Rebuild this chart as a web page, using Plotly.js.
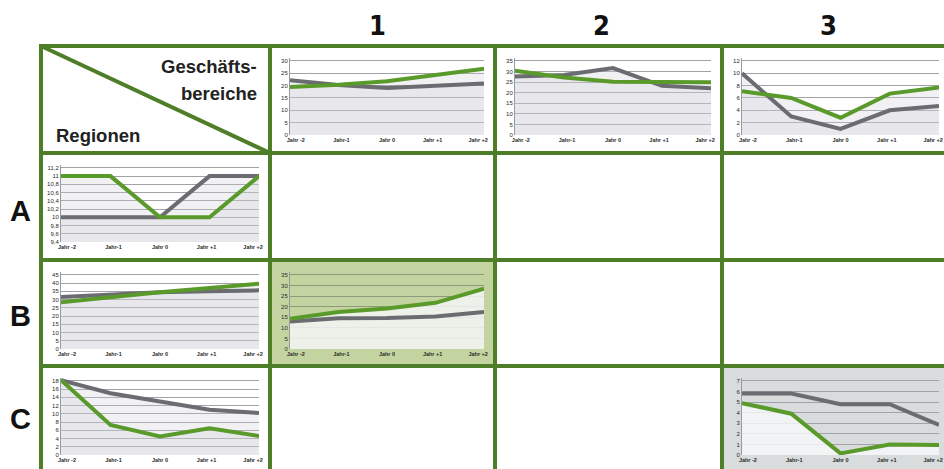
<!DOCTYPE html>
<html>
<head>
<meta charset="utf-8">
<script src="https://cdn.plot.ly/plotly-3.0.1.min.js"></script>
<style>html,body{margin:0;padding:0;background:#fff;}#chart{width:944px;height:469px;}</style>
</head>
<body>
<div id="chart"></div>
<script>
// ---- Data ----
const years = ['Jahr -2', 'Jahr-1', 'Jahr 0', 'Jahr +1', 'Jahr +2'];
const columnLabels = ['1', '2', '3'];
const rowLabels = ['A', 'B', 'C'];

const head1Gray  = [22.2, 20.2, 19.0, 19.8, 20.8];
const head1Green = [19.4, 20.3, 21.8, 24.3, 26.8];
const head2Gray  = [27.6, 28.3, 31.6, 23.2, 22.1];
const head2Green = [30.3, 27.2, 25.1, 24.9, 24.9];
const head3Gray  = [10.0, 3.0, 1.0, 4.0, 4.7];
const head3Green = [7.1, 6.0, 2.8, 6.7, 7.7];
const rowAGray   = [10, 10, 10, 11, 11];
const rowAGreen  = [11, 11, 10, 10, 11];
const rowBGray   = [31.5, 33.0, 34.5, 35.0, 35.6];
const rowBGreen  = [28.4, 31.5, 34.5, 37.0, 39.7];
const rowCGray   = [18.2, 15.0, 13.0, 11.0, 10.2];
const rowCGreen  = [18.2, 7.3, 4.5, 6.5, 4.6];
const cellB1Gray  = [13.0, 14.5, 14.6, 15.4, 17.5];
const cellB1Green = [14.3, 17.5, 19.1, 21.8, 28.5];
const cellC3Gray  = [5.8, 5.8, 4.8, 4.8, 2.85];
const cellC3Green = [4.9, 3.9, 0.15, 1.0, 0.95];

// ---- Layout helpers ----
const W = 944, H = 469;
const px = x => x / W;
const py = y => 1 - y / H;
const colEdges = [[41, 270], [270, 495], [495, 722], [722, 950]];
const rowEdges = [[46, 153], [153, 260], [260, 366], [366, 472]];

const GREEN_BORDER = '#4e7e27';
const GRAY_LINE = '#6b6c71';
const GREEN_LINE = '#5a9a2b';

const charts = [
  {col: 1, row: 0, gray: head1Gray, green: head1Green, ymin: 0, ymax: 30, dt: 5, style: 'normal'},
  {col: 2, row: 0, gray: head2Gray, green: head2Green, ymin: 0, ymax: 35, dt: 5, style: 'normal'},
  {col: 3, row: 0, gray: head3Gray, green: head3Green, ymin: 0, ymax: 12, dt: 2, style: 'normal'},
  {col: 0, row: 1, gray: rowAGray, green: rowAGreen, ymin: 9.4, ymax: 11.2, dt: 0.2, style: 'normal'},
  {col: 0, row: 2, gray: rowBGray, green: rowBGreen, ymin: 0, ymax: 45, dt: 5, style: 'normal'},
  {col: 0, row: 3, gray: rowCGray, green: rowCGreen, ymin: 0, ymax: 18, dt: 2, style: 'normal'},
  {col: 1, row: 2, gray: cellB1Gray, green: cellB1Green, ymin: 0, ymax: 35, dt: 5, style: 'green'},
  {col: 3, row: 3, gray: cellC3Gray, green: cellC3Green, ymin: 0, ymax: 7, dt: 1, style: 'gray'}
];

const traces = [];
const layout = {
  width: W, height: H, autosize: false,
  margin: {l: 0, r: 0, t: 0, b: 0, pad: 0},
  paper_bgcolor: '#ffffff', plot_bgcolor: 'rgba(0,0,0,0)',
  showlegend: false, separators: ',.',
  font: {family: 'Liberation Sans, Arial, sans-serif', color: '#333'},
  shapes: [], annotations: []
};

charts.forEach((c, i) => {
  const k = i + 1;
  const sx = k === 1 ? '' : String(k);
  const [l, r] = colEdges[c.col];
  const [t, b] = rowEdges[c.row];
  const xIdx = years.map((_, j) => j);
  // labels sit slightly inward from the line ends, as in the original
  const labelPos = xIdx.map(j => 0.12 + j * 0.94);

  if (c.style === 'green') {
    layout.shapes.push({type: 'rect', xref: 'paper', yref: 'paper', layer: 'below',
      x0: px(l), x1: px(r), y0: py(b), y1: py(t), fillcolor: '#c4d4a1', line: {width: 0}});
  } else if (c.style === 'gray') {
    layout.shapes.push({type: 'rect', xref: 'paper', yref: 'paper', layer: 'below',
      x0: px(l), x1: px(r), y0: py(b), y1: py(t), fillcolor: '#d8dcdc', line: {width: 0}});
  }

  if (c.style === 'normal') {
    [c.gray, c.green].forEach(s => traces.push({
      x: xIdx, y: s, xaxis: 'x' + sx, yaxis: 'y' + sx, type: 'scatter', mode: 'lines',
      line: {width: 0}, fill: 'tozeroy', fillcolor: 'rgba(203,205,214,0.27)', hoverinfo: 'skip'
    }));
  } else {
    traces.push({
      x: xIdx, y: c.green, xaxis: 'x' + sx, yaxis: 'y' + sx, type: 'scatter', mode: 'lines',
      line: {width: 0}, fill: 'tozeroy', fillcolor: 'rgba(247,248,250,0.82)', hoverinfo: 'skip'
    });
  }
  traces.push({x: xIdx, y: c.gray, xaxis: 'x' + sx, yaxis: 'y' + sx, type: 'scatter', mode: 'lines',
    line: {color: GRAY_LINE, width: 4}, name: 'grau'});
  traces.push({x: xIdx, y: c.green, xaxis: 'x' + sx, yaxis: 'y' + sx, type: 'scatter', mode: 'lines',
    line: {color: GREEN_LINE, width: 4}, name: 'grün'});

  const pad = (c.ymax - c.ymin) * 3 / 77;
  layout['xaxis' + sx] = {
    domain: [px(l + 20), px(r - 11)], anchor: 'y' + sx, range: [0, 4],
    tickmode: 'array', tickvals: labelPos, ticktext: years,
    showgrid: false, zeroline: false, showline: false, ticks: '',
    tickfont: {size: 5.5, color: '#2a2a2a', weight: 'bold', family: 'Liberation Sans, Arial'},
    fixedrange: true
  };
  layout['yaxis' + sx] = {
    domain: [py(t + 89), py(t + 12)], anchor: 'x' + sx, range: [c.ymin, c.ymax + pad],
    tickmode: 'linear', tick0: c.ymin, dtick: c.dt,
    showgrid: true, gridcolor: c.style === 'green' ? '#8e9a7e' : '#a2a2a6', gridwidth: 1,
    zeroline: false, showline: true, linecolor: '#9a9a9e', linewidth: 1, ticks: '',
    tickfont: {size: 6, color: '#2a2a2a', family: 'Liberation Sans, Arial'},
    fixedrange: true
  };
});

// grid borders
const xs = [41, 270, 495, 722];
xs.forEach(x => layout.shapes.push({type: 'line', xref: 'paper', yref: 'paper', layer: 'above',
  x0: px(x), x1: px(x), y0: py(44), y1: py(475), line: {color: GREEN_BORDER, width: 4}}));
const ys = [46, 153, 260, 366];
ys.forEach(y => layout.shapes.push({type: 'line', xref: 'paper', yref: 'paper', layer: 'above',
  x0: px(39), x1: px(960), y0: py(y), y1: py(y), line: {color: GREEN_BORDER, width: 4}}));
layout.shapes.push({type: 'line', xref: 'paper', yref: 'paper', layer: 'above',
  x0: px(41), x1: px(270), y0: py(46), y1: py(153), line: {color: GREEN_BORDER, width: 4}});

// headers
const colCenters = [377, 601, 828];
columnLabels.forEach((t, i) => layout.annotations.push({
  text: '<b>' + t + '</b>', xref: 'paper', yref: 'paper', x: px(colCenters[i]), y: py(25),
  xanchor: 'center', yanchor: 'middle', showarrow: false,
  font: {size: 27, color: '#111', family: 'Liberation Sans Narrow, DejaVu Sans Condensed, Arial Narrow, sans-serif'}
}));
const rowCenters = [211, 316, 419];
rowLabels.forEach((t, i) => layout.annotations.push({
  text: '<b>' + t + '</b>', xref: 'paper', yref: 'paper', x: px(20), y: py(rowCenters[i]),
  xanchor: 'center', yanchor: 'middle', showarrow: false,
  font: {size: 29, color: '#111', family: 'Liberation Sans, Arial, sans-serif'}
}));
const hdrFont = {size: 18.5, color: '#222', family: 'Liberation Sans, Arial'};
layout.annotations.push({text: '<b>Geschäfts-</b>', xref: 'paper', yref: 'paper', x: px(259), y: py(66),
  xanchor: 'right', yanchor: 'middle', showarrow: false, font: hdrFont});
layout.annotations.push({text: '<b>bereiche</b>', xref: 'paper', yref: 'paper', x: px(259), y: py(93),
  xanchor: 'right', yanchor: 'middle', showarrow: false, font: hdrFont});
layout.annotations.push({text: '<b>Regionen</b>', xref: 'paper', yref: 'paper', x: px(54), y: py(135),
  xanchor: 'left', yanchor: 'middle', showarrow: false, font: hdrFont});

Plotly.newPlot('chart', traces, layout, {displayModeBar: false, staticPlot: true});
</script>
</body>
</html>
